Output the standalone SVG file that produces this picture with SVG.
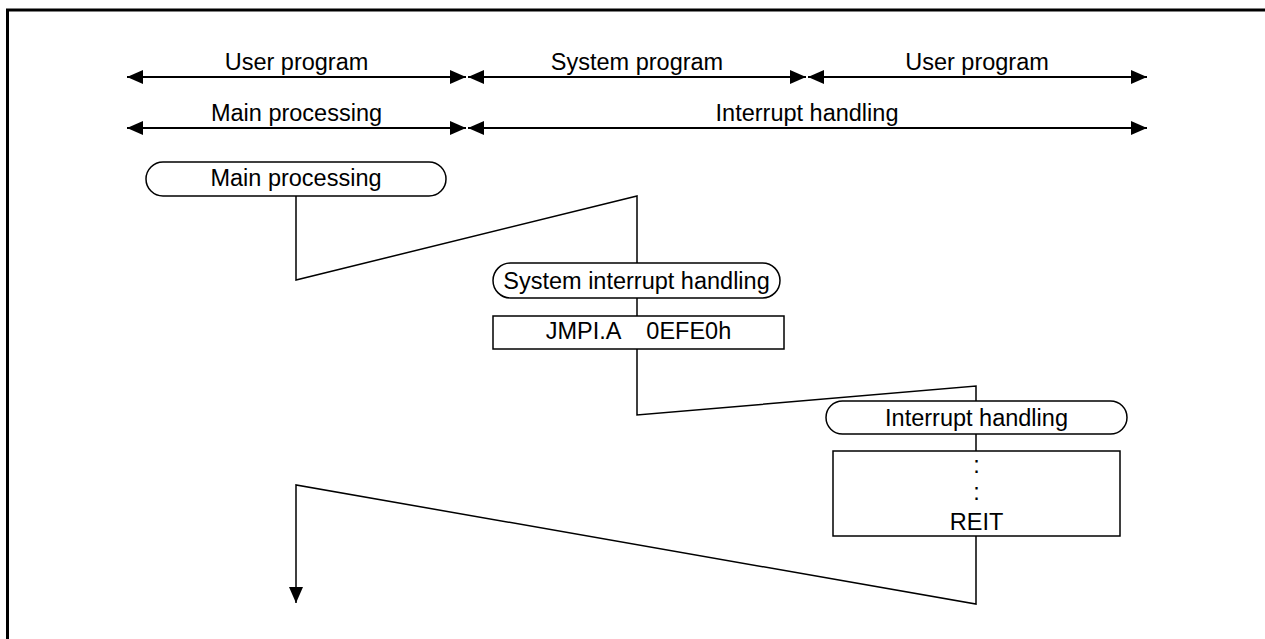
<svg xmlns="http://www.w3.org/2000/svg" width="1265" height="639" viewBox="0 0 1265 639">
<style>
text{font-family:"Liberation Sans",Arial,sans-serif;font-size:23.5px;fill:#000;text-anchor:middle}
.ln{fill:none;stroke:#000;stroke-width:1.5}
.sp{fill:none;stroke:#000;stroke-width:2}
.bx{fill:#fff;stroke:#000;stroke-width:1.5}
</style>
<defs>
<marker id="ah" viewBox="0 0 16 14" refX="16" refY="7" markerWidth="16" markerHeight="14" markerUnits="userSpaceOnUse" orient="auto-start-reverse">
<path d="M0,0 L16,7 L0,14 Z" fill="#000"/>
</marker>
</defs>
<rect width="1265" height="639" fill="#fff"/>
<path d="M7.5,639 V10 H1265" fill="none" stroke="#000" stroke-width="3"/>

<g id="spans">
<line class="sp" x1="127" y1="77" x2="466" y2="77" marker-start="url(#ah)" marker-end="url(#ah)"/>
<line class="sp" x1="468" y1="77" x2="806" y2="77" marker-start="url(#ah)" marker-end="url(#ah)"/>
<line class="sp" x1="808" y1="77" x2="1147" y2="77" marker-start="url(#ah)" marker-end="url(#ah)"/>
<line class="sp" x1="127" y1="128" x2="466" y2="128" marker-start="url(#ah)" marker-end="url(#ah)"/>
<line class="sp" x1="468" y1="128" x2="1147" y2="128" marker-start="url(#ah)" marker-end="url(#ah)"/>
<text x="296.5" y="70">User program</text>
<text x="637" y="70">System program</text>
<text x="977" y="70">User program</text>
<text x="296.5" y="121">Main processing</text>
<text x="807" y="121">Interrupt handling</text>
</g>

<g id="connectors">
<polyline class="ln" points="296,196 296,280 637,196 637,263"/>
<line class="ln" x1="637" y1="298" x2="637" y2="316"/>
<polyline class="ln" points="637,349 637,415 976,386 976,401"/>
<line class="ln" x1="976" y1="434" x2="976" y2="451"/>
<polyline class="ln" points="976,536 976,604 296,485 296,603" marker-end="url(#ah)"/>
</g>

<g id="main-processing">
<rect class="bx" x="146" y="162" width="300" height="34" rx="17" ry="17"/>
<text x="296" y="186">Main processing</text>
</g>

<g id="system-interrupt-handling">
<rect class="bx" x="493" y="263" width="287" height="35" rx="17.5" ry="17.5"/>
<text x="636.5" y="289">System interrupt handling</text>
</g>

<g id="jmpi">
<rect class="bx" x="493" y="316" width="291" height="33"/>
<text x="638.5" y="339" xml:space="preserve">JMPI.A    0EFE0h</text>
</g>

<g id="interrupt-handling">
<rect class="bx" x="826" y="401" width="301" height="33" rx="16.5" ry="16.5"/>
<text x="976.5" y="426">Interrupt handling</text>
</g>

<g id="reit-block">
<rect class="bx" x="833" y="451" width="287" height="85"/>
<text x="976.5" y="473">:</text>
<text x="976.5" y="500">:</text>
<text x="976.5" y="530">REIT</text>
</g>
</svg>
